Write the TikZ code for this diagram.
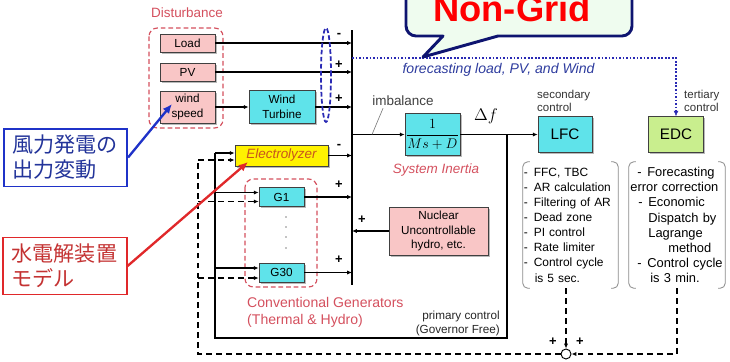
\documentclass[tikz,border=0pt]{standalone}
\usepackage{amsmath}
\usepackage{fontspec}
\setmainfont{Liberation Sans}
\newfontfamily\jpfont{Noto Sans CJK JP}
\usetikzlibrary{arrows.meta,calc,positioning,shadows}
\definecolor{BoxCyan}{HTML}{5FE3EA}
\definecolor{BoxPink}{HTML}{F9C6C6}
\definecolor{BoxYellow}{HTML}{FFF200}
\definecolor{BoxGreen}{HTML}{C9EE8E}
\definecolor{GenRed}{HTML}{D4505E}
\definecolor{ElecText}{HTML}{C8541E}
\definecolor{FcastBlue}{HTML}{2E3C9E}
\definecolor{DotBlue}{HTML}{2A2AB4}
\definecolor{CallNavy}{HTML}{0E1470}
\definecolor{CallFill}{HTML}{EFFCEF}
\definecolor{NoteGray}{HTML}{8A8A8A}
\definecolor{WindBlue}{HTML}{1F32C8}
\definecolor{WindText}{HTML}{23349A}
\definecolor{ModelRed}{HTML}{E0282A}
\definecolor{ModelText}{HTML}{C43232}
\newcommand\dashitem{\makebox[0.3cm][l]{-}}
\tikzset{
  blk/.style={draw=black!75, line width=0.5pt, align=center, inner sep=0pt,
              font=\fontsize{10}{12.6}\selectfont,
              drop shadow={shadow xshift=1.3pt, shadow yshift=-1.3pt, fill=black!50, opacity=0.55}},
  sig/.style={line width=1pt, -{Latex[length=4.2pt,width=3.6pt]}},
  wire/.style={line width=1.2pt},
  ctrl/.style={line width=1.3pt, dash pattern=on 5pt off 3.5pt},
  grp/.style={draw=GenRed, line width=1pt, dash pattern=on 4pt off 2.5pt, rounded corners=2.5mm},
  bracket/.style={draw=NoteGray, line width=0.7pt, rounded corners=1.5mm},
}
\begin{document}
\begin{tikzpicture}[x=0.03cm, y=-0.03cm,
  lbl/.style={inner sep=0pt, align=left},
  sgn/.style={inner sep=0pt, font=\fontsize{11}{11}\selectfont\bfseries},
  note/.style={inner sep=0pt, align=left, minimum width=#1, minimum height=3.78cm},
  jbox/.style={draw=#1, line width=1.5pt, fill=white, inner xsep=0.25cm, inner ysep=0.2cm,
               text width=3.2cm, align=left, font=\jpfont\fontsize{18}{21.3}\selectfont},
]
\useasboundingbox (0,0) rectangle (730,361);
% ===================== summing bar and disturbances
\coordinate (barT) at (352,30);
\coordinate (barB) at (352,285);
\draw[line width=1.2pt] (barT) -- (barB);
\node[lbl, text=GenRed, font=\fontsize{11.5}{12}\selectfont] (dist) at (187,13) {Disturbance};
\draw[grp] (149,28) rectangle (223,128);
\node[blk, fill=BoxPink, minimum width=1.65cm, minimum height=0.54cm] (load) at (187.5,43) {Load};
\node[blk, fill=BoxPink, minimum width=1.65cm, minimum height=0.54cm] (pv) at (187.5,72) {PV};
\node[blk, fill=BoxPink, minimum width=1.65cm, minimum height=0.96cm] (wspd) at (187.5,107) {wind\\speed};
\node[blk, fill=BoxCyan, minimum width=1.98cm, minimum height=0.99cm] (wt) at (282,107) {Wind\\Turbine};
\draw[sig] (wspd.east) -- (wt.west);
\draw[sig] (load.east) -- (load.east -| barT);
\draw[sig] (pv.east) -- (pv.east -| barT);
\draw[sig] (wt.east) -- (wt.east -| barT);
\draw[draw=DotBlue, line width=1.5pt, dash pattern=on 4pt off 2pt] (326,75) ellipse [x radius=0.15cm, y radius=1.41cm];
% ===================== electrolyzer and generators
\node[blk, fill=BoxYellow, minimum width=2.79cm, minimum height=0.63cm,
      font=\fontsize{11.5}{12}\selectfont\itshape, text=ElecText] (elec) at (281.5,155.5) {Electrolyzer};
\draw[grp] (245,179) rectangle (317,287);
\node[blk, fill=BoxCyan, minimum width=1.35cm, minimum height=0.56cm] (g1) at (281.5,197) {G1};
\node[blk, fill=BoxCyan, minimum width=1.35cm, minimum height=0.57cm] (g30) at (281.5,272.5) {G30};
\foreach \yy in {217,227,237,248} \fill (286,\yy) circle (0.6pt);
\node[lbl, anchor=north west, text=GenRed, font=\fontsize{12}{14.5}\selectfont] (conv) at (247,297)
  {Conventional Generators\\(Thermal \& Hydro)};
\node[blk, fill=BoxPink, minimum width=2.97cm, minimum height=1.44cm] (nuc) at (438.5,231)
  {Nuclear\\Uncontrollable\\hydro, etc.};
\draw[sig] (elec.east) -- (elec.east -| barT);
\draw[sig] (g1.east) -- (g1.east -| barT);
\draw[sig] (g30.east) -- (g30.east -| barT);
\draw[sig] (nuc.west) -- (nuc.west -| barT);
\foreach \nm/\xx/\yy/\sg in {sA/339/35/-, sB/339/65/+, sC/339/99/+, sD/339/146/-,
                             sE/339/185/+, sF/339/260/+, sG/362/220/+, sH/553/342/+, sI/580/342/+}
  \node[sgn] (\nm) at (\xx,\yy) {\sg};
% ===================== system inertia and controllers
\node[blk, fill=BoxCyan, minimum width=1.65cm, minimum height=1.26cm, font=\fontsize{13}{13}\selectfont] (plant) at (432.5,134.5)
  {$\dfrac{1}{Ms+D}$};
\draw[sig] (barT |- plant.west) -- (plant.west);
\node[lbl, text=black!75, font=\fontsize{11.5}{12}\selectfont] (imb) at (403,101) {imbalance};
\coordinate (imbPt) at (372,134.5);
\draw[black!55, line width=0.5pt] ($(imb.south west)+(11,2)$) -- (imbPt);
\node[lbl, font=\fontsize{15}{15}\selectfont] (df) at (486,116) {$\Delta f$};
\node[lbl, text=GenRed, font=\fontsize{11.5}{12}\selectfont\itshape] (sysin) at (436,170) {System Inertia};
\node[blk, fill=BoxCyan, minimum width=1.62cm, minimum height=1.08cm, font=\fontsize{13}{13}\selectfont] (lfc) at (565,134.5) {LFC};
\node[blk, fill=BoxGreen, minimum width=1.65cm, minimum height=1.08cm, font=\fontsize{13}{13}\selectfont] (edc) at (676,134.5) {EDC};
\draw[sig] (plant.east) -- (lfc.west);
\node[lbl, anchor=north west, text=black!80, font=\fontsize{9.8}{11}\selectfont] (sec) at (537,90) {secondary\\control};
\node[lbl, anchor=north west, text=black!80, font=\fontsize{9.8}{11}\selectfont] (ter) at (684,90) {tertiary\\control};
\node[lbl, anchor=north east, align=right, text=black!85, font=\fontsize{10}{12}\selectfont] (prim) at (500,311)
  {primary control\\(Governor Free)};
% forecasting path
\coordinate (fcS) at (352,58);
\draw[draw=DotBlue, line width=1.5pt, dash pattern=on 1.5pt off 1.5pt] (fcS) -- (fcS -| edc.north) -- ([yshift=4pt]edc.north);
\draw[DotBlue, -{Latex[length=4.5pt,width=4pt]}] ([yshift=5pt]edc.north) -- (edc.north);
\node[lbl, text=FcastBlue, font=\fontsize{12}{12}\selectfont\itshape] (fcast) at (498.5,70) {forecasting load, PV, and Wind};
% controller notes
\node[note=2.85cm, text width=2.8cm, font=\fontsize{10.2}{12.9}\selectfont] (lfcnote) at (570.5,225)
  {\dashitem FFC, TBC\\ \dashitem AR calculation\\ \dashitem Filtering of AR\\ \dashitem Dead zone\\
   \dashitem PI control\\ \dashitem Rate limiter\\ \dashitem Control cycle\\ \hspace*{0.33cm}is 5 sec.};
\node[note=2.88cm, text width=2.8cm, font=\fontsize{11}{12.9}\selectfont] (edcnote) at (677,225)
  {\hspace*{0.21cm}\dashitem Forecasting\\ error correction\\ \hspace*{0.24cm}\dashitem Economic\\
   \hspace*{0.54cm}Dispatch by\\ \hspace*{0.54cm}Lagrange\\ \hspace*{1.14cm}method\\
   \hspace*{0.21cm}\dashitem Control cycle\\ \hspace*{0.6cm}is 3 min.};
\foreach \nt in {lfcnote,edcnote}{
  \draw[bracket] ([xshift=6pt]\nt.north west) -- (\nt.north west) -- (\nt.south west) -- ([xshift=6pt]\nt.south west);
  \draw[bracket] ([xshift=-6pt]\nt.north east) -- (\nt.north east) -- (\nt.south east) -- ([xshift=-6pt]\nt.south east);
}
% ===================== feedback loops
\node[circle, draw, line width=0.8pt, fill=white, minimum size=0.3cm, inner sep=0pt] (sumj) at (566,354) {};
\foreach \gn/\ds/\dd in {elec/-2.5/4.5, g1/-4.5/4.5, g30/-4.5/5.5}{
  \coordinate (sol\gn) at ($(\gn.west)+(0,\ds)$);
  \coordinate (das\gn) at ($(\gn.west)+(0,\dd)$);
}
\coordinate (fbTop) at (507,134.5);
\coordinate (fbBL) at (215,338);
\coordinate (dsBL) at (198,354);
\draw[wire] (fbTop) -- (fbTop |- fbBL) -- (fbBL) -- (fbBL |- solelec);
\draw[ctrl] (sumj.west) -- (dsBL) -- (dsBL |- daselec);
\foreach \gn in {elec,g1,g30}{
  \draw[sig] (fbBL |- sol\gn) -- (sol\gn);
  \draw[sig, ctrl] (dsBL |- das\gn) -- (das\gn);
}
\draw[sig, ctrl] (lfcnote.south -| sumj) -- (sumj.north);
\draw[sig, ctrl] (edcnote.south) -- (edcnote.south |- sumj) -- (sumj.east);
% ===================== call-outs
\draw[line width=2.5pt, draw=CallNavy, fill=CallFill, line join=round]
  (423,57) -- (498,36) [rounded corners=3mm] -- (632,36) -- (632,-30) -- (406,-30) -- (406,36) [sharp corners] -- (443,36) -- cycle;
\node[font=\fontsize{31}{31}\selectfont\bfseries, text=red, anchor=base, inner sep=0pt] (nongrid) at (512,21) {Non-Grid};
\node[jbox=WindBlue, text=WindText] (jwind) at (65.5,157.5) {風力発電の\\出力変動};
\node[jbox=ModelRed, text=ModelText] (jelec) at (65,266) {水電解装置\\モデル};
\coordinate (wtip) at (172,104);
\coordinate (etip) at (248,162);
\draw[WindBlue, line width=2pt, -{Latex[length=8pt,width=7pt]}] (jwind.east) -- (wtip);
\draw[ModelRed, line width=2pt, -{Latex[length=8pt,width=7pt]}] (jelec.east) -- (etip);
\end{tikzpicture}
\end{document}
